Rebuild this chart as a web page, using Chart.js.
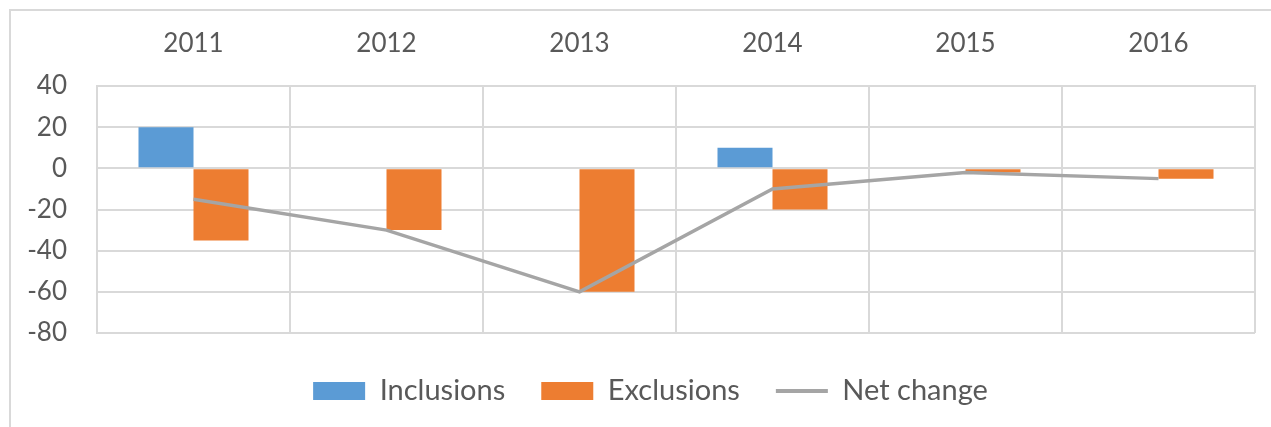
<!DOCTYPE html>
<html>
<head>
<meta charset="utf-8">
<script src="https://cdn.jsdelivr.net/npm/chart.js@4/dist/chart.umd.min.js"></script>
<style>
  html, body { margin: 0; padding: 0; background: #fff; overflow: hidden; }
  #wrap { position: relative; width: 1271px; height: 427px; }
  #frame { position: absolute; left: 9px; top: 9px; width: 1300px; height: 500px; border: 2px solid #d9d9d9; box-sizing: border-box; }
  canvas { position: absolute; left: 0; top: 0; }
</style>
</head>
<body>
<div id="wrap">
  <div id="frame"></div>
  <canvas id="netChart" width="1271" height="427"></canvas>
</div>
<script>
const years = ['2011', '2012', '2013', '2014', '2015', '2016'];
const inclusions = [20, 0, 0, 10, 0, 0];
const exclusions = [-35, -30, -60, -20, -2, -5];
const netChange = [-15, -30, -60, -10, -2, -5];
const yTicks = [40, 20, 0, -20, -40, -60, -80];

const textColor = '#595959';
const gridColor = '#d9d9d9';
const tickFont = { family: 'Lato', size: 26 };
const legendFont = { family: 'Lato', size: 29 };

// nudge the legend row to the right so it sits centred under the plot like the original
const legendShift = {
  id: 'legendShift',
  afterLayout(chart) {
    if (chart.legend) {
      chart.legend.left += 46;
      chart.legend.adjustHitBoxes && chart.legend.adjustHitBoxes();
    }
  }
};

const ctx = document.getElementById('netChart').getContext('2d');
new Chart(ctx, {
  type: 'bar',
  data: {
    labels: years,
    datasets: [{
      label: 'Inclusions',
      data: inclusions,
      backgroundColor: '#5B9BD5',
      order: 1
    }, {
      label: 'Exclusions',
      data: exclusions,
      backgroundColor: '#ED7D31',
      order: 1
    }, {
      type: 'line',
      label: 'Net change',
      data: netChange,
      borderColor: '#A5A5A5',
      backgroundColor: '#A5A5A5',
      borderWidth: 3.5,
      pointRadius: 0,
      tension: 0,
      order: 0
    }]
  },
  plugins: [legendShift],
  options: {
    responsive: false,
    animation: false,
    categoryPercentage: 0.57,
    barPercentage: 1.0,
    layout: { padding: { left: 0, right: 16, top: 0, bottom: 11.5 } },
    plugins: {
      tooltip: { enabled: false },
      legend: {
        position: 'bottom',
        // empty title only used as a small spacer above the row
        title: { display: true, text: '', font: { size: 5 }, padding: { top: 1.5, bottom: 0 } },
        labels: {
          color: textColor,
          font: legendFont,
          usePointStyle: true,
          pointStyleWidth: 52,
          boxHeight: 18,
          padding: 36,
          sort: (a, b) => a.datasetIndex - b.datasetIndex,
          generateLabels: (chart) => {
            const items = Chart.defaults.plugins.legend.labels.generateLabels(chart);
            items.forEach(item => {
              const ds = chart.data.datasets[item.datasetIndex];
              if (ds.type === 'line') {
                item.pointStyle = 'line';
                item.strokeStyle = ds.borderColor;
                item.lineWidth = 4;
              } else {
                item.pointStyle = 'rect';
                item.lineWidth = 0;
                item.strokeStyle = ds.backgroundColor;
              }
            });
            return items;
          }
        }
      }
    },
    scales: {
      x: {
        position: 'top',
        grid: { color: gridColor, lineWidth: 2, drawTicks: false, offset: true },
        border: { color: gridColor, width: 2 },
        ticks: { color: textColor, font: tickFont, padding: 27, maxRotation: 0 },
        afterFit: (scale) => { scale.height = 86; }
      },
      y: {
        min: -80,
        max: 40,
        afterBuildTicks: (scale) => { scale.ticks = yTicks.map(v => ({ value: v })); },
        grid: { color: gridColor, lineWidth: 2, drawTicks: false },
        border: { color: gridColor, width: 2 },
        ticks: { color: textColor, font: tickFont, padding: 30 },
        afterFit: (scale) => { scale.width = 97; }
      }
    }
  }
});
</script>
</body>
</html>
